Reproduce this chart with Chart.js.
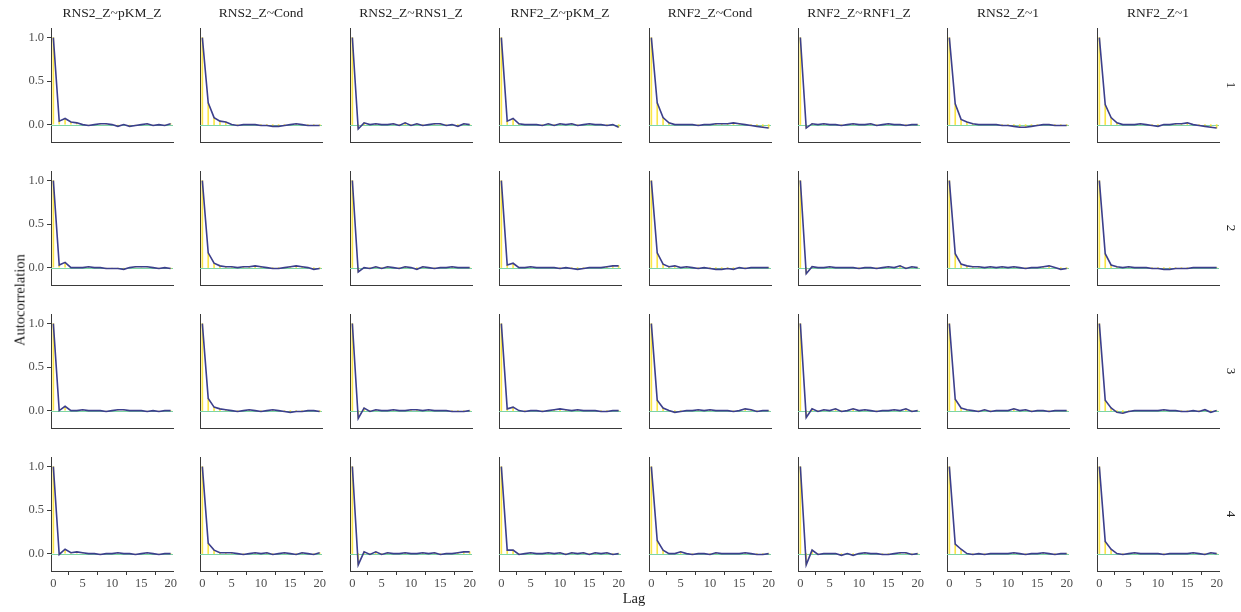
<!DOCTYPE html>
<html>
<head>
<meta charset="utf-8">
<title>Autocorrelation by chain</title>
<script src="https://cdn.jsdelivr.net/npm/chart.js@4.4.1/dist/chart.umd.min.js"></script>
<style>
  body { margin: 0; background: #fff; }
  #grid {
    position: relative; width: 1241px; height: 612px; overflow: hidden;
    font-family: "Liberation Serif", "DejaVu Serif", serif; color: #1a1a1a;
  }
  #grid canvas { position: absolute; }
  .colTitle { position: absolute; top: 5px; width: 150px; text-align: center; font-size: 13.5px; line-height: 16px; white-space: nowrap; color: #222; }
  .rowLabel { position: absolute; font-size: 13px; transform: translate(-50%, -50%) rotate(90deg); color: #222; }
  .axisTitle { position: absolute; font-size: 14.5px; white-space: nowrap; }
</style>
</head>
<body>
<div id="grid"></div>
<script>
// --- data ---
const lags = [0, 1, 2, 3, 4, 5, 6, 7, 8, 9, 10, 11, 12, 13, 14, 15, 16, 17, 18, 19, 20];
const models = ['RNS2_Z~pKM_Z', 'RNS2_Z~Cond', 'RNS2_Z~RNS1_Z', 'RNF2_Z~pKM_Z',
                'RNF2_Z~Cond', 'RNF2_Z~RNF1_Z', 'RNS2_Z~1', 'RNF2_Z~1'];
const chains = ['1', '2', '3', '4'];
const xTicks = [0, 5, 10, 15, 20];
const yTicks = [0, 0.5, 1.0];

// one list per chain, one row of acf values per model
const acfChain1 = [
  [1.0, 0.04, 0.07, 0.03, 0.02, 0.0, -0.01, 0.0, 0.01, 0.01, 0.0, -0.02, 0.0, -0.02, -0.01, 0.0, 0.01, -0.01, 0.0, -0.01, 0.01],
  [1.0, 0.25, 0.08, 0.04, 0.03, 0.0, -0.01, 0.0, 0.0, 0.0, -0.01, -0.01, -0.02, -0.02, -0.01, 0.0, 0.01, 0.0, -0.01, -0.01, -0.01],
  [1.0, -0.05, 0.02, 0.0, 0.01, 0.0, 0.0, 0.01, -0.01, 0.02, -0.01, 0.01, -0.01, 0.0, 0.01, 0.01, -0.01, 0.0, -0.02, 0.01, 0.0],
  [1.0, 0.04, 0.07, 0.01, 0.0, 0.0, 0.0, -0.01, 0.01, -0.01, 0.01, 0.0, 0.01, -0.01, 0.0, 0.01, 0.0, 0.0, -0.01, 0.0, -0.03],
  [1.0, 0.25, 0.08, 0.02, 0.0, 0.0, 0.0, 0.0, -0.01, 0.0, 0.0, 0.01, 0.01, 0.01, 0.02, 0.01, 0.0, -0.01, -0.02, -0.03, -0.04],
  [1.0, -0.04, 0.01, 0.0, 0.01, 0.0, 0.0, -0.01, 0.0, 0.01, 0.0, 0.0, 0.01, -0.01, 0.0, 0.01, 0.0, 0.0, -0.01, 0.0, 0.0],
  [1.0, 0.24, 0.06, 0.03, 0.01, 0.0, 0.0, 0.0, 0.0, -0.01, -0.01, -0.02, -0.03, -0.03, -0.02, -0.01, 0.0, 0.0, -0.01, -0.01, -0.01],
  [1.0, 0.23, 0.08, 0.02, 0.0, 0.0, 0.0, 0.01, 0.0, -0.01, -0.02, 0.0, 0.0, 0.01, 0.01, 0.02, 0.0, -0.01, -0.02, -0.03, -0.04]
];
const acfChain2 = [
  [1.0, 0.03, 0.06, 0.0, 0.0, 0.0, 0.01, 0.0, 0.0, -0.01, -0.01, -0.01, -0.02, 0.0, 0.01, 0.01, 0.01, 0.0, -0.01, 0.0, -0.01],
  [1.0, 0.17, 0.05, 0.02, 0.01, 0.01, 0.0, 0.01, 0.01, 0.02, 0.01, 0.0, -0.01, -0.01, 0.0, 0.01, 0.02, 0.01, 0.0, -0.02, -0.01],
  [1.0, -0.05, 0.0, -0.01, 0.01, -0.01, 0.01, 0.0, -0.01, 0.01, 0.0, -0.02, 0.01, 0.0, -0.01, 0.0, 0.0, 0.01, 0.0, 0.0, 0.0],
  [1.0, 0.03, 0.05, 0.0, 0.0, 0.01, 0.0, 0.0, 0.0, 0.0, -0.01, 0.0, -0.01, -0.02, -0.01, 0.0, 0.0, 0.0, 0.01, 0.02, 0.02],
  [1.0, 0.17, 0.04, 0.01, 0.02, 0.0, 0.01, 0.0, -0.01, 0.0, -0.01, -0.02, -0.02, -0.01, -0.02, 0.0, -0.01, 0.0, 0.0, 0.0, 0.0],
  [1.0, -0.07, 0.01, 0.0, 0.0, 0.01, 0.0, 0.0, 0.0, 0.0, -0.01, 0.0, 0.0, -0.01, 0.0, 0.01, 0.0, 0.02, -0.01, 0.01, 0.0],
  [1.0, 0.16, 0.04, 0.02, 0.01, 0.01, 0.0, 0.01, 0.0, 0.01, 0.0, 0.01, 0.0, -0.01, 0.0, 0.0, 0.01, 0.02, 0.0, -0.02, -0.01],
  [1.0, 0.16, 0.03, 0.01, 0.0, 0.01, 0.0, 0.0, 0.0, -0.01, -0.01, -0.02, -0.02, -0.01, -0.01, -0.01, 0.0, 0.0, 0.0, 0.0, 0.0]
];
const acfChain3 = [
  [1.0, 0.0, 0.05, 0.0, 0.0, 0.01, 0.0, 0.0, 0.0, -0.01, 0.0, 0.01, 0.01, 0.0, 0.0, 0.0, -0.01, 0.0, -0.01, 0.0, 0.0],
  [1.0, 0.14, 0.04, 0.02, 0.01, 0.0, -0.01, 0.0, 0.01, 0.0, -0.01, 0.0, 0.01, 0.0, -0.01, -0.02, -0.01, -0.01, 0.0, 0.0, -0.01],
  [1.0, -0.09, 0.03, -0.01, 0.01, 0.0, 0.0, 0.01, 0.0, 0.0, 0.01, 0.01, 0.0, 0.01, 0.0, 0.0, 0.0, -0.01, -0.01, -0.01, 0.0],
  [1.0, 0.02, 0.04, 0.0, -0.01, 0.0, 0.0, -0.01, 0.0, 0.01, 0.02, 0.01, 0.0, 0.01, 0.0, 0.0, 0.0, -0.01, -0.01, 0.0, 0.0],
  [1.0, 0.12, 0.03, 0.0, -0.02, -0.01, 0.0, 0.0, 0.01, 0.0, 0.01, 0.0, 0.0, 0.0, -0.01, 0.0, 0.02, 0.01, -0.01, 0.0, 0.0],
  [1.0, -0.08, 0.02, -0.01, 0.01, 0.0, 0.02, -0.01, 0.0, 0.02, 0.0, 0.01, 0.0, -0.01, 0.0, 0.0, 0.01, 0.0, 0.02, -0.01, 0.0],
  [1.0, 0.13, 0.03, 0.01, 0.0, -0.01, 0.01, -0.01, 0.0, 0.0, 0.0, 0.02, 0.0, 0.01, -0.01, 0.0, 0.0, -0.01, 0.0, 0.0, 0.0],
  [1.0, 0.12, 0.03, -0.02, -0.03, -0.01, 0.0, 0.0, 0.0, 0.0, 0.0, 0.01, 0.0, 0.0, -0.01, -0.01, 0.0, -0.01, 0.01, -0.02, 0.0]
];
const acfChain4 = [
  [1.0, -0.01, 0.05, 0.01, 0.02, 0.01, 0.0, 0.0, -0.01, 0.0, 0.0, 0.01, 0.0, 0.0, -0.01, 0.0, 0.01, 0.0, -0.01, 0.0, 0.0],
  [1.0, 0.12, 0.04, 0.01, 0.01, 0.01, 0.0, -0.01, 0.0, 0.01, 0.0, 0.01, -0.01, 0.0, 0.01, 0.0, -0.01, 0.01, 0.0, -0.01, 0.01],
  [1.0, -0.13, 0.02, -0.01, 0.02, -0.01, 0.01, 0.0, 0.0, 0.01, 0.0, 0.0, 0.01, 0.0, 0.01, -0.01, 0.0, 0.0, 0.01, 0.02, 0.02],
  [1.0, 0.04, 0.04, -0.01, 0.0, 0.01, 0.0, 0.0, 0.01, 0.0, 0.01, -0.01, 0.01, 0.0, 0.01, -0.01, 0.01, 0.0, 0.01, -0.01, 0.0],
  [1.0, 0.15, 0.04, 0.0, 0.0, 0.02, 0.0, -0.01, 0.0, 0.0, -0.01, 0.01, 0.0, 0.0, 0.0, 0.0, 0.01, 0.0, -0.01, -0.01, 0.0],
  [1.0, -0.13, 0.04, -0.01, 0.0, 0.0, 0.0, -0.02, 0.0, -0.02, 0.0, 0.01, 0.0, 0.0, -0.01, -0.01, 0.0, 0.01, 0.01, -0.01, 0.0],
  [1.0, 0.11, 0.05, 0.0, -0.01, 0.0, -0.01, 0.0, 0.0, 0.0, 0.0, 0.01, 0.0, -0.01, 0.0, 0.0, 0.01, 0.0, -0.01, 0.0, 0.0],
  [1.0, 0.14, 0.05, 0.0, -0.01, 0.0, 0.01, 0.0, 0.0, 0.0, 0.0, -0.01, 0.0, 0.0, 0.0, 0.0, 0.01, 0.0, -0.01, 0.01, 0.0]
];
const acfByChain = [acfChain1, acfChain2, acfChain3, acfChain4];

// --- look ---
const NAVY = '#3c3f8c';
const YELLOW = 'rgba(250, 226, 40, 0.85)';
const ZERO = 'rgb(125, 212, 165)';
const AXIS = '#3a3a3a';
const TICK = '#4d4d4d';

// panel geometry (px)
const PANEL_X0 = 51, PANEL_DX = 149.4, PANEL_W = 122;
const PANEL_Y0 = 28, PANEL_DY = 143, PANEL_H = 114;
const Y_W = 44, X_H = 24, PAD_T = 8, PAD_R = 14;

Chart.defaults.font.family = '"Liberation Serif", "DejaVu Serif", serif';

// horizontal reference line at zero
const zeroLine = {
  id: 'zeroLine',
  beforeDatasetsDraw(chart) {
    const { ctx, chartArea, scales: { y } } = chart;
    const py = Math.round(y.getPixelForValue(0)) + 0.5;
    ctx.save();
    ctx.strokeStyle = ZERO;
    ctx.lineWidth = 1;
    ctx.beginPath();
    ctx.moveTo(chartArea.left, py);
    ctx.lineTo(chartArea.right, py);
    ctx.stroke();
    ctx.restore();
  }
};

const grid = document.getElementById('grid');

function addText(cls, text, css) {
  const el = document.createElement('div');
  el.className = cls;
  el.textContent = text;
  Object.assign(el.style, css);
  grid.appendChild(el);
  return el;
}

function drawPanel(r, c) {
  const isLeft = c === 0;
  const isBottom = r === chains.length - 1;
  const left = Math.round(PANEL_X0 + PANEL_DX * c);
  const top = PANEL_Y0 + PANEL_DY * r;

  const canvas = document.createElement('canvas');
  canvas.width = Y_W + PANEL_W + PAD_R;
  canvas.height = PAD_T + PANEL_H + X_H;
  canvas.style.left = (left - Y_W) + 'px';
  canvas.style.top = (top - PAD_T) + 'px';
  canvas.style.width = canvas.width + 'px';
  canvas.style.height = canvas.height + 'px';
  grid.appendChild(canvas);

  const points = lags.map((lag, i) => ({ x: lag, y: acfByChain[r][c][i] }));

  new Chart(canvas, {
    data: {
      datasets: [
        { type: 'bar', data: points, backgroundColor: YELLOW, barThickness: 1, order: 2 },
        { type: 'line', data: points, borderColor: NAVY, borderWidth: 1.6, pointRadius: 0, tension: 0, order: 1 }
      ]
    },
    options: {
      responsive: false,
      animation: false,
      devicePixelRatio: 1,
      layout: { padding: { top: PAD_T, right: PAD_R, left: 0, bottom: 0 } },
      plugins: { legend: { display: false }, tooltip: { enabled: false } },
      scales: {
        x: {
          type: 'linear', min: -0.4, max: 20.4, offset: false,
          afterBuildTicks: s => { s.ticks = xTicks.map(v => ({ value: v })); },
          afterFit: s => { s.height = X_H; s.paddingLeft = 0; s.paddingRight = 0; },
          ticks: { display: isBottom, color: TICK, font: { size: 12.5 }, padding: 1, maxRotation: 0 },
          grid: { display: isBottom, drawOnChartArea: false, drawTicks: true, tickLength: 4, color: AXIS },
          border: { display: true, color: AXIS, width: 1 }
        },
        y: {
          type: 'linear', min: -0.2, max: 1.11,
          afterBuildTicks: s => { s.ticks = yTicks.map(v => ({ value: v })); },
          afterFit: s => { s.width = Y_W; s.paddingTop = 0; s.paddingBottom = 0; },
          ticks: { display: isLeft, color: TICK, font: { size: 12.5 }, padding: 3, callback: v => v.toFixed(1) },
          grid: { display: isLeft, drawOnChartArea: false, drawTicks: true, tickLength: 4, color: AXIS },
          border: { display: true, color: AXIS, width: 1 }
        }
      }
    },
    plugins: [zeroLine]
  });
}

chains.forEach((chain, r) => models.forEach((m, c) => drawPanel(r, c)));

// facet strips
models.forEach((m, c) => {
  const center = Math.round(PANEL_X0 + PANEL_DX * c) + PANEL_W / 2;
  addText('colTitle', m, { left: (center - 75) + 'px' });
});
chains.forEach((chain, r) => {
  addText('rowLabel', chain, { left: '1231px', top: (PANEL_Y0 + PANEL_DY * r + PANEL_H / 2) + 'px' });
});

// axis titles
addText('axisTitle', 'Lag', { left: '634px', top: '598px', transform: 'translate(-50%, -50%)' });
addText('axisTitle', 'Autocorrelation', { left: '20px', top: '300px', transform: 'translate(-50%, -50%) rotate(-90deg)' });
</script>
</body>
</html>
